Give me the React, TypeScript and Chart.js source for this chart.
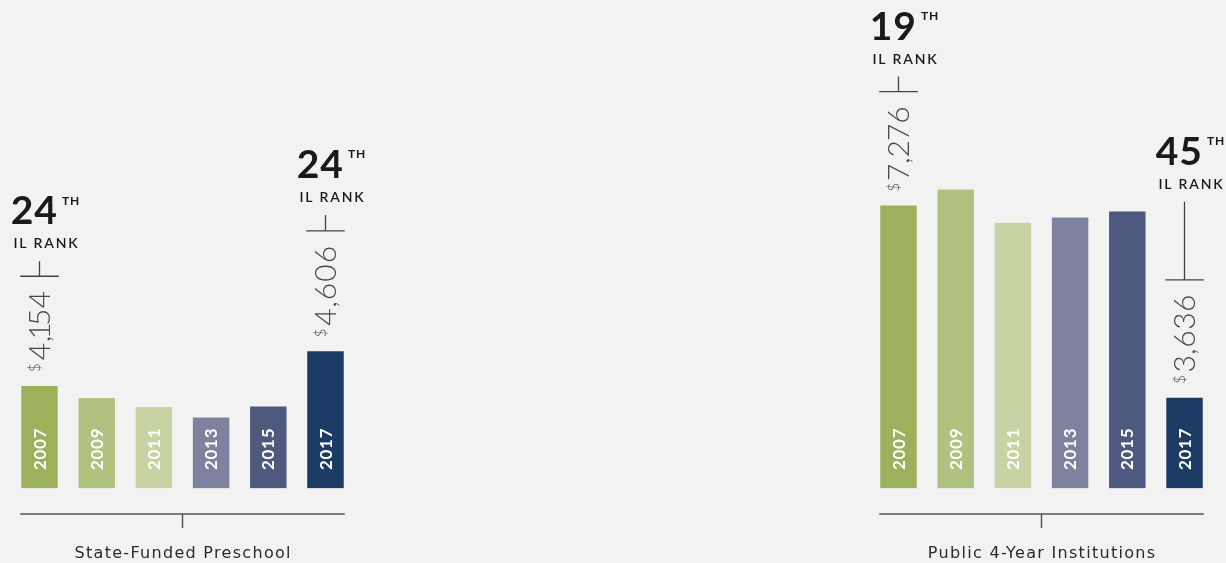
import { useEffect, useRef } from "react";
import { Chart, registerables } from "chart.js";

Chart.register(...registerables);

// ---------- data ----------
const years = ["2007", "2009", "2011", "2013", "2015", "2017"];
const preschoolValues = [4154, 3996, 3880, 3740, 3885, 4606];
const universityValues = [7276, 7580, 6950, 7050, 7165, 3636];
const preschoolRanks = ["24", "24"]; // first year, last year
const universityRanks = ["19", "45"];
const panelTitles = ["State-Funded Preschool", "Public 4-Year Institutions"];
const rankSuffix = "TH";
const rankCaption = "IL RANK";

// ---------- styles ----------
const barColors = ["#9DB05B", "#B1C17F", "#C7D3A3", "#7E829F", "#4E5A7D", "#1B3A64"];
const BG = "#f2f2f2";
const FONT = "Lato, 'Open Sans', 'DejaVu Sans', sans-serif";
const TITLE_FONT = "'DejaVu Sans', Lato, sans-serif";
// per-glyph advance factors to imitate proportional figures
const glyphScale: Record<string, number> = { "1": 0.5, "7": 0.88, "2": 0.95, "3": 0.95, "0": 1.04, "6": 1.04 };

type PanelCfg = {
  values: number[];
  ranks: string[];
  title: string;
  yMin: number;
  yMax: number;
  left: number;
  padLeft: number;
  padRight: number;
  leaders: number[];
};

const panels: PanelCfg[] = [
  {
    values: preschoolValues,
    ranks: preschoolRanks,
    title: panelTitles[0],
    yMin: 2800,
    yMax: 8030,
    left: 0,
    padLeft: 10.9,
    padRight: 258.9,
    leaders: [15, 16],
  },
  {
    values: universityValues,
    ranks: universityRanks,
    title: panelTitles[1],
    yMin: 1900,
    yMax: 9475,
    left: 613,
    padLeft: 256.9,
    padRight: 12.9,
    leaders: [15, 78],
  },
];

const fmt = (v: number) => v.toLocaleString("en-US");

// draws text char by char with proportional-looking figures; returns advance
function drawProportional(
  ctx: CanvasRenderingContext2D,
  text: string,
  x: number,
  y: number,
  spacing: number
) {
  let pos = x;
  for (const ch of text) {
    const w = ctx.measureText(ch).width;
    const s = glyphScale[ch] ?? 1;
    const adv = w * s;
    const off = -(w - adv) / 2;
    ctx.fillText(ch, pos + off, y);
    pos += adv + spacing;
  }
  return pos - x - spacing;
}

const decorPlugin = {
  id: "decor",
  afterDatasetsDraw(chart: any, _args: any, opts: any) {
    const cfg: PanelCfg = opts.cfg;
    if (!cfg) return;
    const ctx: CanvasRenderingContext2D = chart.ctx;
    const bars = chart.getDatasetMeta(0).data;
    const baseY = chart.chartArea.bottom;
    ctx.save();

    // year labels inside bars
    bars.forEach((bar: any, i: number) => {
      const { x } = bar.getProps(["x"], true);
      ctx.save();
      ctx.translate(x, baseY - 18.5);
      ctx.rotate(-Math.PI / 2);
      ctx.font = `bold 17px ${FONT}`;
      (ctx as any).letterSpacing = "0.7px";
      ctx.fillStyle = "#ffffff";
      ctx.textAlign = "left";
      ctx.textBaseline = "alphabetic";
      ctx.fillText(years[i], 0, (17 * 0.72) / 2);
      ctx.restore();
    });
    (ctx as any).letterSpacing = "0px";

    // value labels, leaders and ranks for first and last bar
    [0, bars.length - 1].forEach((idx, k) => {
      const bar = bars[idx];
      const { x, y, width } = bar.getProps(["x", "y", "width"], true);
      const start = y - 13;
      const numSize = 30;
      const numCap = numSize * 0.72;
      const dolSize = 15;
      const dolCap = dolSize * 0.72;
      const numText = fmt(cfg.values[idx]);

      ctx.save();
      ctx.translate(x, start);
      ctx.rotate(-Math.PI / 2);
      ctx.fillStyle = "#4a4a4a";
      ctx.textAlign = "left";
      ctx.textBaseline = "alphabetic";
      ctx.font = `300 ${dolSize}px ${FONT}`;
      const dW = ctx.measureText("$").width;
      ctx.fillText("$", 0, -numCap / 2 + dolCap);
      ctx.font = `300 ${numSize}px ${FONT}`;
      const nW = drawProportional(ctx, numText, dW + 3, numCap / 2, 0.5);
      ctx.restore();

      const labelTop = start - (dW + 3 + nW);
      const hY = labelTop - 14.5;
      const leader = cfg.leaders[k];
      ctx.strokeStyle = "#444";
      ctx.lineWidth = 1.3;
      ctx.beginPath();
      ctx.moveTo(x - width / 2, hY);
      ctx.lineTo(x + width / 2, hY);
      ctx.moveTo(x, hY);
      ctx.lineTo(x, hY - leader);
      ctx.stroke();

      // rank
      const cx = x + 6;
      const capBase = hY - leader - 13;
      ctx.fillStyle = "#1a1a1a";
      ctx.textBaseline = "alphabetic";
      ctx.font = `600 14px ${FONT}`;
      (ctx as any).letterSpacing = "1.8px";
      ctx.textAlign = "center";
      ctx.fillText(rankCaption, cx + 0.9, capBase);

      const bigSize = 39;
      const bigCap = bigSize * 0.72;
      const bigBase = capBase - 24;
      ctx.font = `bold ${bigSize}px ${FONT}`;
      (ctx as any).letterSpacing = "1px";
      const bigW = ctx.measureText(cfg.ranks[k]).width;
      ctx.font = `bold 12px ${FONT}`;
      (ctx as any).letterSpacing = "1px";
      const thW = ctx.measureText(rankSuffix).width;
      const total = bigW + 4 + thW;
      const x0 = cx - total / 2;
      ctx.textAlign = "left";
      ctx.font = `bold ${bigSize}px ${FONT}`;
      ctx.fillText(cfg.ranks[k], x0, bigBase);
      ctx.font = `bold 12px ${FONT}`;
      ctx.fillText(rankSuffix, x0 + bigW + 4, bigBase - bigCap + 12 * 0.72);
      (ctx as any).letterSpacing = "0px";
    });

    // bottom axis with centre tick and title
    const first = bars[0].getProps(["x", "width"], true);
    const last = bars[bars.length - 1].getProps(["x", "width"], true);
    const lx = first.x - first.width / 2;
    const rx = last.x + last.width / 2;
    const mid = (first.x + last.x) / 2;
    const axisY = baseY + 25.5;
    ctx.strokeStyle = "#555";
    ctx.lineWidth = 1.5;
    ctx.beginPath();
    ctx.moveTo(lx, axisY);
    ctx.lineTo(rx, axisY);
    ctx.moveTo(mid, axisY);
    ctx.lineTo(mid, axisY + 14);
    ctx.stroke();

    ctx.fillStyle = "#2a2a2a";
    ctx.font = `16px ${TITLE_FONT}`;
    (ctx as any).letterSpacing = "1.3px";
    ctx.textAlign = "center";
    ctx.textBaseline = "alphabetic";
    ctx.fillText(cfg.title, mid + 0.65, axisY + 44);
    (ctx as any).letterSpacing = "0px";
    ctx.restore();
  },
};

function Panel({ cfg }: { cfg: PanelCfg }) {
  const ref = useRef<HTMLCanvasElement>(null);
  useEffect(() => {
    if (!ref.current) return;
    const chart = new Chart(ref.current, {
      type: "bar",
      data: {
        labels: years,
        datasets: [
          {
            data: cfg.values,
            base: cfg.yMin,
            backgroundColor: barColors,
            borderColor: "rgba(255,255,255,0.28)",
            borderWidth: 1,
            categoryPercentage: 1,
            barPercentage: 0.673,
          } as any,
        ],
      },
      options: {
        responsive: false,
        animation: false,
        devicePixelRatio: 1,
        layout: {
          padding: { left: cfg.padLeft, right: cfg.padRight, top: 88.5, bottom: 74.5 },
        },
        scales: {
          x: { display: false, offset: true },
          y: { display: false, min: cfg.yMin, max: cfg.yMax },
        },
        plugins: {
          legend: { display: false },
          tooltip: { enabled: false },
          decor: { cfg },
        } as any,
      },
      plugins: [decorPlugin],
    });
    return () => chart.destroy();
  }, [cfg]);
  return (
    <canvas
      ref={ref}
      width={613}
      height={563}
      style={{ position: "absolute", left: cfg.left, top: 0, width: 613, height: 563 }}
    />
  );
}

export default function App() {
  return (
    <div
      style={{
        position: "fixed",
        left: 0,
        top: 0,
        width: 1226,
        height: 563,
        background: BG,
        overflow: "hidden",
      }}
    >
      {panels.map((p, i) => (
        <Panel key={i} cfg={p} />
      ))}
    </div>
  );
}
